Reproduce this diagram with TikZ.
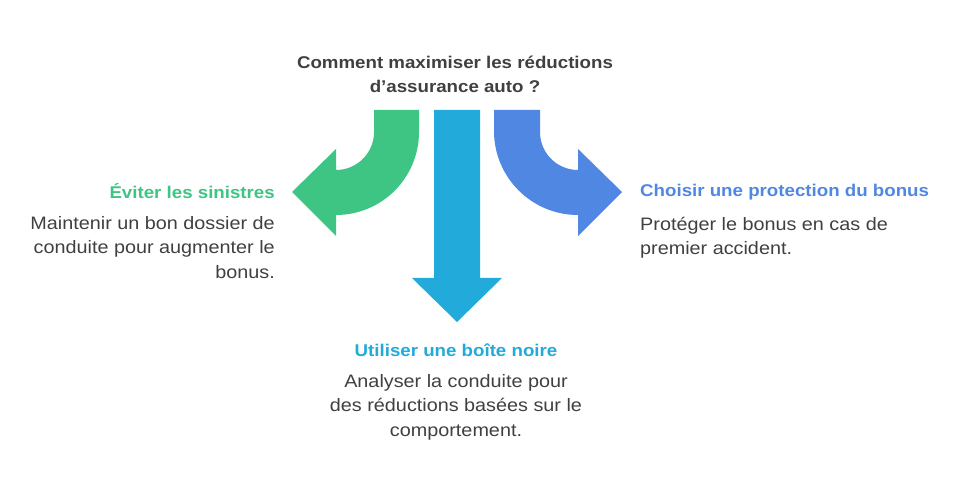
\documentclass[tikz,border=0pt]{standalone}
\usepackage{fontspec}
\setmainfont[FakeStretch=1.1]{Liberation Sans}
\definecolor{cg}{HTML}{3EC583}
\definecolor{cb}{HTML}{22AADA}
\definecolor{cr}{HTML}{4F87E3}
\definecolor{tx}{HTML}{404040}
\begin{document}
\begin{tikzpicture}[x=1pt,y=-1pt,
  body/.style={font=\fontsize{18}{24.5}\selectfont,text=tx,inner sep=0pt},
  head/.style={font=\bfseries\fontsize{17}{24}\selectfont,inner sep=0pt}]
\useasboundingbox (0,0) rectangle (962,494);
\fill[white] (0,0) rectangle (962,494);
% green
\fill[cg] (374,110) -- (374,132) arc[start angle=0,end angle=90,radius=38] -- (336,149) -- (292,192) -- (336,236) -- (336,215)
  arc[start angle=90,end angle=0,radius=83] -- (419,110) -- cycle;
% middle
\fill[cb] (434,110) -- (434,278) -- (412,278) -- (457,322) -- (502,278) -- (480,278) -- (480,110) -- cycle;
% right
\fill[cr] (540,110) -- (540,132) arc[start angle=180,end angle=90,radius=38] -- (578,149) -- (622,192) -- (578,236) -- (578,215)
  arc[start angle=90,end angle=180,radius=84] -- (494,110) -- cycle;
\node[head,text=tx,align=center] (q) at (455,74) {Comment maximiser les réductions\\d{\char"0027}assurance auto ?};
\node[head,text=cg,anchor=east] (t1) at (275,191) {Éviter les sinistres};
\node[body,anchor=north east,align=right] (b1) at (275,216) {Maintenir un bon dossier de\\conduite pour augmenter le\\bonus.};
\node[head,text=cr,anchor=west] (t3) at (640,192) {Choisir une protection du bonus};
\node[body,anchor=north west,align=left] (b3) at (640,217) {Protéger le bonus en cas de\\premier accident.};
\node[head,text=cb] (t2) at (456,350) {Utiliser une boîte noire};
\node[body,anchor=north,align=center] (b2) at (456,374) {Analyser la conduite pour\\des réductions basées sur le\\comportement.};
\end{tikzpicture}
\end{document}
